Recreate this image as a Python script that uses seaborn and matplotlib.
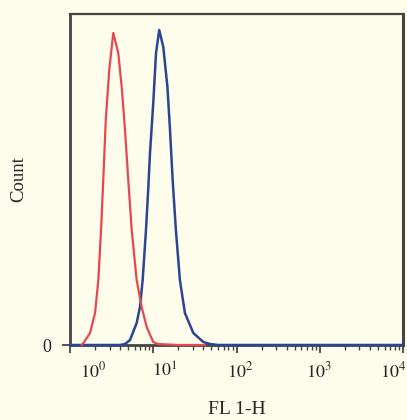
import numpy as np
import pandas as pd
import matplotlib
matplotlib.use("Agg")
import matplotlib.pyplot as plt
import matplotlib.transforms as mtransforms
import seaborn as sns

# ---- data ----
red_fl = [1.38, 1.45, 1.74, 2.00, 2.19, 2.36, 2.51, 2.69, 2.96, 3.31, 3.80,
          4.18, 4.58, 5.01, 5.51, 6.32, 7.26, 8.34, 10.0, 11.4, 20.0, 41.7]
red_count = [0, 2, 12, 32, 65, 115, 165, 225, 275, 312, 292,
             258, 215, 165, 115, 65, 38, 18, 3, 1, 0, 0]

blue_fl = [1.0, 4.0, 4.58, 5.26, 6.32, 6.93, 7.46, 8.18, 8.73, 9.14, 10.0,
           10.8, 11.8, 13.2, 14.8, 15.9, 17.1, 18.7, 20.9, 24.0, 30.3, 39.9,
           48.1, 60.0, 10000.0]
blue_count = [0, 0, 1, 5, 22, 38, 65, 115, 158, 192, 242,
              292, 315, 298, 258, 215, 165, 115, 65, 32, 12, 3,
              1, 0, 0]

x_ticks = [1, 10, 100, 1000, 10000]
x_tick_labels = ["$10^{0}$", "$10^{1}$", "$10^{2}$", "$10^{3}$", "$10^{4}$"]
y_ticks = [0]
y_tick_labels = ["0"]

# ---- style ----
sns.set_style("white")
plt.rcParams["font.family"] = ["Liberation Serif", "DejaVu Serif"]
plt.rcParams["mathtext.fontset"] = "stix"

bg = "#FEFCEA"
spine_c = "#454545"
red_c = "#E5484F"
blue_c = "#2B4596"

fig = plt.figure(figsize=(4.07, 4.20), dpi=100, facecolor=bg)
ax = fig.add_axes([70 / 407, 75 / 420, 333 / 407, 331 / 420])
ax.set_facecolor(bg)

df_b = pd.DataFrame({"fl": blue_fl, "count": blue_count})
df_r = pd.DataFrame({"fl": red_fl, "count": red_count})
sns.lineplot(data=df_b, x="fl", y="count", ax=ax, color=blue_c, lw=1.8,
             estimator=None, sort=False, clip_on=False, zorder=3)
sns.lineplot(data=df_r, x="fl", y="count", ax=ax, color=red_c, lw=1.6,
             estimator=None, sort=False, clip_on=False, zorder=4)

ax.set_xscale("log")
ax.set_xlim(1, 10000)
ax.set_ylim(0, 331)

ax.set_xticks(x_ticks)
ax.set_xticklabels(x_tick_labels, fontsize=13)
ax.xaxis.set_minor_locator(matplotlib.ticker.LogLocator(base=10, subs=np.arange(2, 10), numticks=20))
ax.xaxis.set_minor_formatter(matplotlib.ticker.NullFormatter())
ax.set_yticks(y_ticks)
ax.set_yticklabels(y_tick_labels, fontsize=13)

ax.tick_params(axis="x", which="major", direction="out", length=6, width=1.3,
               color=spine_c, pad=6, bottom=True)
ax.tick_params(axis="x", which="minor", direction="out", length=3.5, width=1.0,
               color=spine_c, bottom=True)
ax.tick_params(axis="y", which="major", direction="out", length=5.5, width=1.3,
               color=spine_c, pad=8, left=True)

# shift tick labels to match reference placement (pixels)
offsets_px = [23, 11, 4, -1, -10]
for lab, dx in zip(ax.get_xticklabels(), offsets_px):
    lab.set_transform(lab.get_transform() +
                      mtransforms.ScaledTranslation(dx / 100, 0, fig.dpi_scale_trans))

for side, w in [("left", 2.0), ("bottom", 2.0), ("top", 1.6), ("right", 2.2)]:
    ax.spines[side].set_visible(True)
    ax.spines[side].set_color(spine_c)
    ax.spines[side].set_linewidth(w)

ax.set_xlabel("FL 1-H", fontsize=14, labelpad=14)
ax.set_ylabel("Count", fontsize=13.5, labelpad=11)

fig.savefig("out.png", dpi=100, facecolor=bg)
